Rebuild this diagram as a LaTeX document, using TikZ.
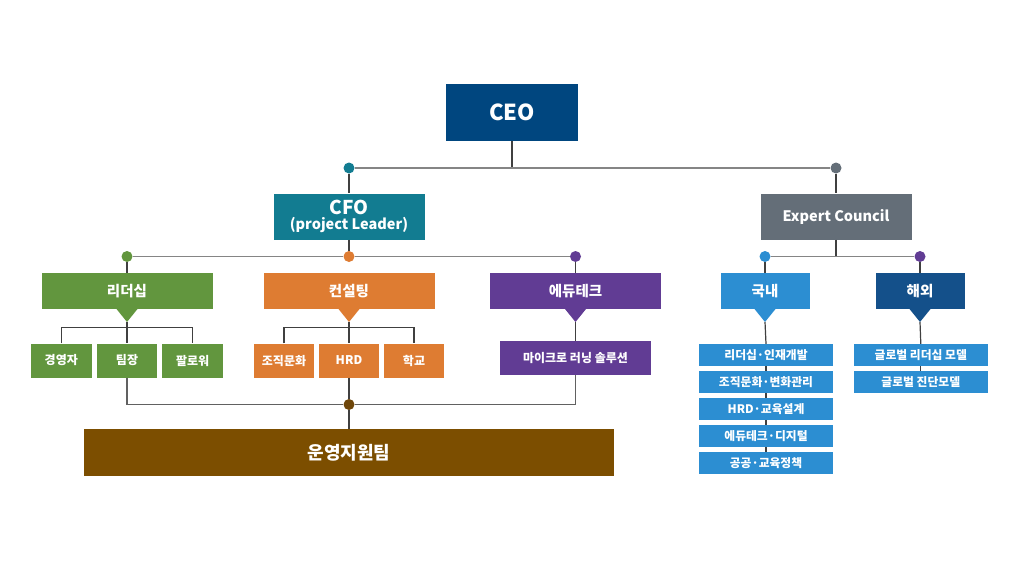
\documentclass[tikz,border=0pt]{standalone}
\usepackage{fontspec}
\setmainfont{Noto Sans CJK KR}
\usepackage{xcolor}
\definecolor{ColCeo}{RGB}{0,70,127}
\definecolor{ColCfo}{RGB}{18,124,145}
\definecolor{ColEc}{RGB}{100,110,120}
\definecolor{ColLd}{RGB}{98,150,62}
\definecolor{ColCs}{RGB}{222,124,50}
\definecolor{ColEt}{RGB}{97,60,148}
\definecolor{ColKr}{RGB}{44,142,210}
\definecolor{ColOs}{RGB}{20,80,138}
\definecolor{ColOp}{RGB}{124,78,0}
\definecolor{ColOpDot}{RGB}{110,70,10}
\usepackage{tikz}
\tikzstyle{Box}=[rectangle,inner sep=0pt,text=white,align=center]
\tikzstyle{BoxMain}=[Box,minimum width=171pt,minimum height=36.6pt,
font=\bfseries\fontsize{14.5}{17}\selectfont]
\tikzstyle{BoxSub}=[Box,minimum width=60.5pt,minimum height=34pt,
font=\bfseries\fontsize{12}{14}\selectfont]
\tikzstyle{BoxList}=[Box,fill=ColKr,minimum width=133.5pt,minimum height=22pt,
font=\bfseries\fontsize{11.8}{13}\selectfont]
\tikzstyle{Dot}=[circle,inner sep=0pt,minimum size=11pt]
\tikzstyle{Edge}=[draw=black!75,line width=1.2pt]
\tikzstyle{EdgeH}=[draw=black!48,line width=1.7pt]
\tikzstyle{EdgeB}=[draw=black!62,line width=1.4pt]
\newcommand{\DrawTip}[2]{%
  \fill[#2]([xshift=-10.5pt,yshift=.5pt]#1.south)--([yshift=-12.5pt]#1.south)
    --([xshift=10.5pt,yshift=.5pt]#1.south)--cycle;
  \coordinate(#1t)at([yshift=-12.5pt]#1.south);}

\begin{document}
\begin{tikzpicture}[x=1pt,y=-1pt]
    \fill[white](0,0)rectangle(1024,576);
    \useasboundingbox(0,0)rectangle(1024,576);
    % top
    \node[Box,fill=ColCeo,minimum width=132pt,minimum height=57pt,
      font=\bfseries\fontsize{22}{26}\selectfont](ceo)at(512,112.5){CEO};
    \coordinate(ceoj)at(512,168);
    \node[Dot,fill=ColCfo](dcfo)at(349,168){};
    \node[Dot,fill=ColEc](dec)at(836,168){};
    \node[Box,fill=ColCfo,minimum width=151pt,minimum height=46pt](cfo)at(349,216.5)
      {\bfseries\fontsize{19}{19}\selectfont CFO\\[1.5pt]
       \bfseries\fontsize{14.5}{17}\selectfont(project Leader)};
    \node[Box,fill=ColEc,minimum width=151pt,minimum height=46pt,
      font=\bfseries\fontsize{14.5}{17}\selectfont](ec)at(836,216.5){Expert Council};
    \draw[Edge](ceo.south)--(ceoj);
    \draw[EdgeH](dcfo)--(dec);
    \draw[Edge](dcfo)--(cfo.north);
    \draw[Edge](dec)--(ec.north);
    % second level
    \node[Dot,fill=ColLd](dld)at(127,256.5){};
    \node[Dot,fill=ColCs](dcs)at(349,256.5){};
    \node[Dot,fill=ColEt](det)at(575.5,256.5){};
    \node[Dot,fill=ColKr](dkr)at(765,256.5){};
    \node[Dot,fill=ColEt](dos)at(920,256.5){};
    \coordinate(ecj)at(836,256.5);
    \draw[Edge](cfo.south)--(dcs);
    \draw[EdgeH](dld)--(dcs);
    \draw[EdgeH](dcs)--(det);
    \draw[Edge](ec.south)--(ecj);
    \draw[EdgeH](dkr)--(dos);
    \node[BoxMain,fill=ColLd](ld)at(127,291){리더십};
    \node[BoxMain,fill=ColCs](cs)at(349,291){컨설팅};
    \node[BoxMain,fill=ColEt](et)at(575.5,291){에듀테크};
    \node[BoxMain,fill=ColKr,minimum width=89pt](kr)at(765,291){국내};
    \node[BoxMain,fill=ColOs,minimum width=89pt](os)at(920,291){해외};
    \draw[Edge](dld)--(ld.north);
    \draw[Edge](det)--(et.north);
    \draw[Edge](dkr)--(kr.north);
    \draw[Edge](dos)--(os.north);
    \DrawTip{ld}{ColLd}
    \DrawTip{cs}{ColCs}
    \DrawTip{et}{ColEt}
    \DrawTip{kr}{ColKr}
    \DrawTip{os}{ColOs}
    % leadership
    \node[BoxSub,fill=ColLd](ld1)at(61.3,360.5){경영자};
    \node[BoxSub,fill=ColLd](ld2)at(127,360.5){팀장};
    \node[BoxSub,fill=ColLd](ld3)at(192.7,360.5){팔로워};
    \coordinate(ldbar)at(127,327.3);
    \draw[Edge](ld1.north)|-(ldbar)-|(ld3.north);
    \draw[Edge](ldt)--(ld2.north);
    % consulting
    \node[BoxSub,fill=ColCs](cs1)at(284,360.5){조직문화};
    \node[BoxSub,fill=ColCs](cs2)at(349,360.5){HRD};
    \node[BoxSub,fill=ColCs](cs3)at(414,360.5){학교};
    \coordinate(csbar)at(349,327.3);
    \draw[Edge](cs1.north)|-(csbar)-|(cs3.north);
    \draw[Edge](cst)--(cs2.north);
    % edutech
    \node[BoxSub,fill=ColEt,minimum width=151pt](et1)at(575.5,358){마이크로 러닝 솔루션};
    \draw[Edge](ett)--(et1.north);
    % domestic
    \node[BoxList](kr1)at(766,355){리더십·인재개발};
    \node[BoxList](kr2)at(766,382){조직문화·변화관리};
    \node[BoxList](kr3)at(766,409){HRD·교육설계};
    \node[BoxList](kr4)at(766,436){에듀테크·디지털};
    \node[BoxList](kr5)at(766,463){공공·교육정책};
    \draw[Edge](krt)--(kr1.north);
    \draw[Edge](kr1.south)--(kr2.north);
    \draw[Edge](kr2.south)--(kr3.north);
    \draw[Edge](kr3.south)--(kr4.north);
    \draw[Edge](kr4.south)--(kr5.north);
    % overseas
    \node[BoxList](os1)at(920.8,355){글로벌 리더십 모델};
    \node[BoxList](os2)at(920.8,382){글로벌 진단모델};
    \draw[Edge](ost)--(os1.north);
    \draw[Edge](os1.south)--(os2.north);
    % operations
    \node[Dot,fill=ColOpDot](dop)at(349,404.5){};
    \node[Box,fill=ColOp,minimum width=530pt,minimum height=46.7pt,
      font=\bfseries\fontsize{18}{21}\selectfont](op)at(349,452.7){운영지원팀};
    \draw[EdgeB](ld2.south)|-(dop);
    \draw[EdgeB](et1.south)|-(dop);
    \draw[Edge](cs2.south)--(dop);
    \draw[Edge](dop)--(op.north);
\end{tikzpicture}
\end{document}
